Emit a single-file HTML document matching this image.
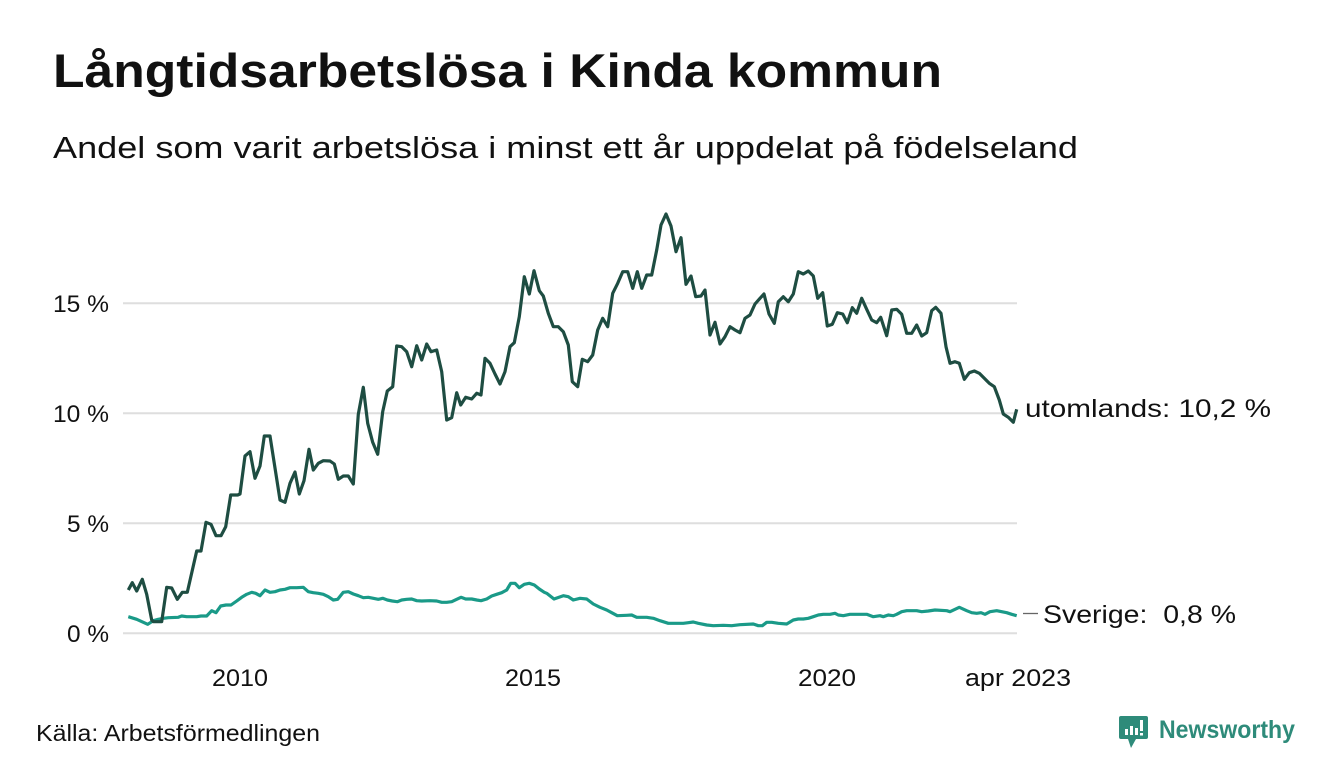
<!DOCTYPE html>
<html><head><meta charset="utf-8"><style>
html,body{margin:0;padding:0;background:#fff;}
svg{display:block;}
text{font-family:"Liberation Sans",sans-serif;fill:#111;}
</style></head><body>
<svg width="1340" height="780" viewBox="0 0 1340 780" xmlns="http://www.w3.org/2000/svg">
<rect width="1340" height="780" fill="#fff"/>
<text x="53" y="87" font-size="47" font-weight="bold" textLength="889" lengthAdjust="spacingAndGlyphs">Långtidsarbetslösa i Kinda kommun</text>
<text x="53" y="158" font-size="31" textLength="1025" lengthAdjust="spacingAndGlyphs" fill="#1a1a1a">Andel som varit arbetslösa i minst ett år uppdelat på födelseland</text>
<g stroke="#dedede" stroke-width="2">
<line x1="123" y1="303.3" x2="1017" y2="303.3"/>
<line x1="123" y1="413.3" x2="1017" y2="413.3"/>
<line x1="123" y1="523.3" x2="1017" y2="523.3"/>
<line x1="123" y1="633.3" x2="1017" y2="633.3"/>
</g>
<g font-size="24" fill="#222">
<text x="53" y="312" textLength="56" lengthAdjust="spacingAndGlyphs">15 %</text>
<text x="53" y="422" textLength="56" lengthAdjust="spacingAndGlyphs">10 %</text>
<text x="67" y="532" textLength="42" lengthAdjust="spacingAndGlyphs">5 %</text>
<text x="67" y="642" textLength="42" lengthAdjust="spacingAndGlyphs">0 %</text>
</g>
<g font-size="24" text-anchor="middle" fill="#222">
<text x="240" y="686" textLength="56" lengthAdjust="spacingAndGlyphs">2010</text>
<text x="533" y="686" textLength="56" lengthAdjust="spacingAndGlyphs">2015</text>
<text x="827" y="686" textLength="58" lengthAdjust="spacingAndGlyphs">2020</text>
<text x="1018" y="686" textLength="106" lengthAdjust="spacingAndGlyphs">apr 2023</text>
</g>
<polyline fill="none" stroke="#1a9a88" stroke-width="3.2" stroke-linejoin="round" points="128.3,616.7 136.7,619.3 147.7,624.3 153.3,620.7 158.3,619.3 163.3,618.3 168.3,617.7 178.3,617.3 181.7,616 186.7,616.7 196.7,616.7 201,616 206.7,616 211.7,610.7 216,612.7 220.7,606 226,605 231,605 236.7,601 241.7,597.3 246.7,594.3 251.7,592.3 255.7,593.3 260,595.7 265,590 270,592.3 275,591.7 280,590 285,589.3 290,587.7 296.7,587.7 303.3,587.3 308.3,591.7 313.3,592.7 318.3,593.3 323.3,594.3 328.3,596.7 333.3,600 337.7,599.3 343.3,592.3 348.3,591.7 353.3,594 358.3,595.7 363.3,597.7 368.3,597.3 373.3,598.3 378.3,599.3 382.7,598.3 387.3,600 392.3,601 397.3,601.7 401.7,600 406.7,599.3 411.7,599 416.7,600.7 421.7,601 430,600.7 436.7,601 441.7,602.3 446.7,602.3 451.7,601.7 456.7,599.3 461,597.3 465.7,599 471.7,599 476.7,600 481,600.7 486.7,599 491.7,596 496.7,594.3 501.7,592.7 506.7,590 510.7,583.3 515,583.3 519.3,587.7 524.3,584.3 529.3,583.3 534.3,585 539.3,589 544.3,592.3 546.7,593.3 554,599 563.3,595.7 568.3,596.7 573.3,600 580,598.3 586.7,599 593.3,604 600,607.3 606.7,610 611.7,612.7 617.3,615.7 626.7,615.3 631.7,615 636.7,617.3 646.7,617.3 653.3,618.3 660,620.7 668.3,623.3 673.3,623.3 683.3,623.3 688.3,622.7 693.3,622 698.3,623.3 706.7,625 713.3,625.7 723.3,625.3 731.7,625.7 740,624.7 753.3,624 758.3,625.7 762.3,625.7 766.7,622.3 771.7,622.3 778.3,623.3 786.7,624 793.3,620 798.3,619 803.3,619 808.3,618.3 813.3,616.7 818.3,615 823.3,614.3 830,614.3 835,613.3 838.3,615 843.3,615.7 850,614.3 860,614.3 866.7,614.3 873.3,616.7 880,615.7 883.3,616.7 888.3,615 893.3,615.7 896.7,614.3 901.7,611.7 906.7,610.7 916.7,610.7 921.7,611.7 928.3,611 935,610 946.7,610.7 950,611.7 959.3,607.3 966.7,610.7 971.7,612.7 976.7,613.3 981,612.7 985,614.3 990,611.7 996.7,610.7 1001.7,611.7 1006.7,612.7 1011.7,614.3 1016.7,615.7"/>
<polyline fill="none" stroke="#1e4d42" stroke-width="3.2" stroke-linejoin="round" points="128.3,590 132.3,582.7 136.7,591 142.3,579.3 146.7,594.3 151.7,620 153.3,621.7 161.7,621.7 166.7,587.3 171.7,588 177.3,599.3 182.3,592.3 187.3,592.3 196.7,551 201,551 206,522.3 211,524.3 216,535.7 221,535.7 225.7,526.7 230.7,495 237.7,495 240,494 245,456 250,451.7 255,478.3 260,466 264.3,436 270,436 280,500 285,502.3 290,483.3 295,472 299.3,494 304,480.7 309,449.3 313.3,470 318.3,463.3 323.3,460.7 330,461 334.3,464 338.3,479.3 343.3,476 348.3,476 353.3,484 358.3,414.3 363.3,387.3 367.7,423.3 372.7,442.3 377.7,454.3 382.7,411.7 387.3,391 392.7,386.7 396.7,346 401.7,346.7 406.7,351.7 411.7,366.7 416.7,345.7 421.7,360 426.7,344 431,351.7 436.7,350 441.7,371.7 446.7,420 451.7,417.7 456.7,392.7 460.7,405 465.7,397.3 471.7,399 476.7,393.3 481,395 485,358.3 490,363.3 495,374 500,384 505,371.7 510,346.7 514.3,342.7 519.3,316.7 524.3,276.7 529.3,294 534,270.7 539.3,290.7 543.3,296 548.3,313.3 553.3,326.7 558.3,326.7 563.3,331.7 568.3,345 572.3,381.7 577.7,386.7 582.3,359.3 587.7,361.7 592.7,355 597.7,330 602.7,318.3 607.7,326.7 612.7,293.3 617.7,283.3 622.7,271.7 627.7,271.7 632.7,288.3 637.3,271.7 641.7,288.3 646.7,275 651.7,275 656.7,250 661,225 666,214 671,226 676,251.7 681,237.7 686,284.3 691,276 695.7,296.7 701,296 705,290 710,335 715,322.3 720,344 725,336.7 730,326.7 735,330 740,332.7 745,318.3 750,315 755,304 760,298.3 764,294 769,314 774.3,323.3 778.3,301.7 783.3,296.7 788.3,301.7 793.3,294 798.3,271.7 803.3,274 808.3,271 813.3,276 817.7,298.3 822.7,292.7 827.3,326 832.3,324.3 837.3,312.7 842.7,314 847.3,322.7 852.3,307.7 856.7,313.3 861.7,298.3 866.7,309.3 871.7,320 876.7,322.7 880.7,317.3 886.7,335.7 891.7,310 896.7,309.3 901.7,314.3 906.7,333.3 911.7,333.3 916.7,325 921.7,336 926.7,332.7 931.7,310.7 935.7,307.3 941,313.3 946,346.7 950,363.3 955,361.7 959.3,363.3 964.3,379.3 969.3,372.7 974.3,371 979.3,373.3 984.3,378.3 989.3,383.3 994.3,386.7 999.3,400 1003.3,414 1008.3,417.3 1013.3,422.3 1016.7,409.3"/>
<text x="1025" y="417" font-size="25" textLength="246" lengthAdjust="spacingAndGlyphs" fill="#1a1a1a">utomlands: 10,2 %</text>
<line x1="1023" y1="613.5" x2="1038" y2="613.5" stroke="#666" stroke-width="1.3"/>
<text x="1043" y="623" font-size="25" textLength="193" lengthAdjust="spacingAndGlyphs" fill="#1a1a1a" xml:space="preserve">Sverige:  0,8 %</text>
<text x="36" y="741" font-size="23" textLength="284" lengthAdjust="spacingAndGlyphs" fill="#1a1a1a">Källa: Arbetsförmedlingen</text>
<g>
<path d="M1121,716 h25 a2,2 0 0 1 2,2 v19 a2,2 0 0 1 -2,2 h-10 l-5,9 l-3,-9 h-7 a2,2 0 0 1 -2,-2 v-19 a2,2 0 0 1 2,-2 z" fill="#2e8b7a"/>
<rect x="1125" y="729" width="3" height="6" fill="#fff"/>
<rect x="1130" y="726" width="3" height="9" fill="#fff"/>
<rect x="1135" y="728" width="3" height="7" fill="#fff"/>
<rect x="1140" y="720" width="3" height="11" fill="#fff"/>
<rect x="1140" y="733" width="3" height="2.5" fill="#fff"/>
<text x="1159" y="738" font-size="25" font-weight="bold" textLength="136" lengthAdjust="spacingAndGlyphs" style="fill:#2e8b7a">Newsworthy</text>
</g>
</svg>
</body></html>
